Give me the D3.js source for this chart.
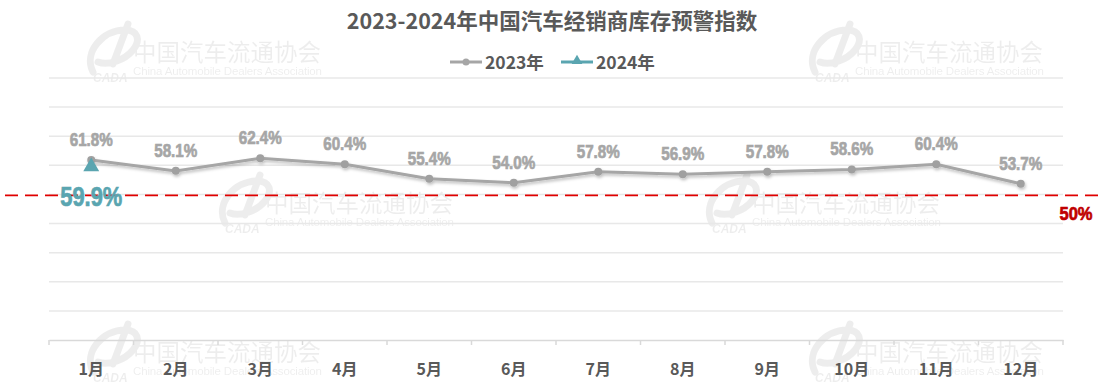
<!DOCTYPE html>
<html>
<head>
<meta charset="utf-8">
<script src="https://cdn.jsdelivr.net/npm/d3@7/dist/d3.min.js"></script>
<style>
  body { margin: 0; background: #fff; }
  #chart { width: 1108px; height: 385px; }
  .narrow { font-family: "Liberation Sans", Arial, sans-serif; font-weight: bold; stroke-width: 0.7px; }
  .cjk { font-family: "Noto Sans CJK SC", "Noto Sans", sans-serif; }
</style>
</head>
<body>
<div id="chart"></div>
<script>
// datos
const months = ["1月", "2月", "3月", "4月", "5月", "6月", "7月", "8月", "9月", "10月", "11月", "12月"];
const values2023 = [61.8, 58.1, 62.4, 60.4, 55.4, 54.0, 57.8, 56.9, 57.8, 58.6, 60.4, 53.7];
const values2024 = [59.9];
const seriesNames = ["2023年", "2024年"];
const warnLine = 50;
const yTicks = [0, 10, 20, 30, 40, 50, 60, 70, 80, 90];
const titleText = "2023-2024年中国汽车经销商库存预警指数";

const width = 1108, height = 385;
const margin = { top: 78, right: 45, bottom: 45, left: 49 };

const svg = d3.select("#chart").append("svg")
  .attr("width", width)
  .attr("height", height);

// sombra de la linea
const defs = svg.append("defs");
const filter = defs.append("filter").attr("id", "shadow")
  .attr("x", "-10%").attr("y", "-50%").attr("width", "120%").attr("height", "200%");
filter.append("feDropShadow")
  .attr("dx", 1).attr("dy", 2).attr("stdDeviation", 1.5)
  .attr("flood-color", "#000").attr("flood-opacity", 0.25);

const x = d3.scaleBand()
  .domain(months)
  .range([margin.left, width - margin.right]);

const y = d3.scaleLinear()
  .domain([0, 90])
  .range([height - margin.bottom, margin.top]);

// marca de agua
const marks = [[133, 52], [855, 52], [265, 203], [752, 203], [133, 352], [855, 352]];
marks.forEach(function (m) {
  let g = svg.append("g").attr("transform", "translate(" + m[0] + "," + m[1] + ")").attr("opacity", 0.065);
  g.append("path")
    .attr("d", "M-40,20 C-50,0 -30,-22 -8,-22 C5,-22 8,-12 0,-2 C-8,8 -25,14 -35,10 M-20,12 L-5,-28")
    .attr("fill", "none").attr("stroke", "#000").attr("stroke-width", 7).attr("stroke-linecap", "round");
  g.append("text").attr("x", -40).attr("y", 30).attr("font-size", 12).attr("font-style", "italic")
    .attr("font-weight", "bold").attr("font-family", "Liberation Sans, sans-serif").attr("fill", "#000").text("CADA");
  g.append("text").attr("class", "cjk").attr("x", 0).attr("y", 9).attr("font-size", 23.5)
    .attr("fill", "#000").text("中国汽车流通协会");
  g.append("text").attr("x", 0).attr("y", 23).attr("font-size", 11.5)
    .attr("font-family", "Liberation Sans, Arial, sans-serif").attr("fill", "#000")
    .attr("textLength", 189).text("China Automobile Dealers Association");
});

// cuadricula
svg.append("g").selectAll("line")
  .data(yTicks.slice(1))
  .enter().append("line")
  .attr("x1", margin.left).attr("x2", width - margin.right)
  .attr("y1", function (d) { return y(d); })
  .attr("y2", function (d) { return y(d); })
  .attr("stroke", "#e8e8e8").attr("stroke-width", 1.5);

// eje x
const xAxis = svg.append("g")
  .attr("transform", "translate(0," + y(0) + ")")
  .call(d3.axisBottom(x).tickSize(0).tickPadding(24));
xAxis.select(".domain").attr("stroke", "#d9d9d9").attr("stroke-width", 1.5);
xAxis.selectAll("text")
  .attr("class", "cjk")
  .attr("font-size", 16).attr("font-weight", "bold").attr("fill", "#595959");
xAxis.selectAll(".sep")
  .data(months.concat([""]))
  .enter().append("line")
  .attr("class", "sep")
  .attr("x1", function (d, i) { return margin.left + i * x.step(); })
  .attr("x2", function (d, i) { return margin.left + i * x.step(); })
  .attr("y1", 0).attr("y2", 5)
  .attr("stroke", "#d9d9d9").attr("stroke-width", 1.5);

// linea de advertencia
svg.append("line")
  .attr("x1", 5).attr("x2", 1100)
  .attr("y1", y(warnLine) + 1).attr("y2", y(warnLine) + 1)
  .attr("stroke", "#e00000").attr("stroke-width", 1.8)
  .attr("stroke-dasharray", "13,7");
svg.append("text")
  .attr("class", "narrow")
  .attr("transform", "translate(1076,220) scale(0.87,1)")
  .attr("text-anchor", "middle")
  .attr("font-size", 19).attr("fill", "#c00000").attr("stroke", "#c00000")
  .text(warnLine + "%");

// serie 2023
const cx = function (d, i) { return x(months[i]) + x.bandwidth() / 2; };
const line = d3.line()
  .x(function (d, i) { return cx(d, i); })
  .y(function (d) { return y(d); });

const s23 = svg.append("g").attr("filter", "url(#shadow)");
s23.append("path")
  .datum(values2023)
  .attr("d", line)
  .attr("fill", "none")
  .attr("stroke", "#a6a6a6")
  .attr("stroke-width", 3);
s23.selectAll("circle")
  .data(values2023)
  .enter().append("circle")
  .attr("cx", cx)
  .attr("cy", function (d) { return y(d); })
  .attr("r", 4)
  .attr("fill", "#a0a0a0");

svg.selectAll(".lab23")
  .data(values2023)
  .enter().append("text")
  .attr("class", "narrow lab23")
  .attr("transform", function (d, i) { return "translate(" + cx(d, i) + "," + (y(d) - 14) + ") scale(0.8,1)"; })
  .attr("text-anchor", "middle")
  .attr("font-size", 19)
  .attr("fill", "#a6a6a6").attr("stroke", "#a6a6a6")
  .text(function (d) { return d.toFixed(1) + "%"; });

// serie 2024
const tri = d3.symbol().type(d3.symbolTriangle).size(110);
svg.selectAll(".pt24")
  .data(values2024)
  .enter().append("path")
  .attr("class", "pt24")
  .attr("transform", function (d, i) { return "translate(" + cx(d, i) + "," + (y(d) + 1) + ")"; })
  .attr("d", tri)
  .attr("fill", "#5aa5b0");
svg.selectAll(".lab24")
  .data(values2024)
  .enter().append("text")
  .attr("class", "narrow lab24")
  .attr("transform", function (d, i) { return "translate(" + cx(d, i) + "," + (y(d) + 40) + ") scale(0.81,1)"; })
  .attr("text-anchor", "middle")
  .attr("font-size", 27)
  .attr("fill", "#5aa5b0").attr("stroke", "#5aa5b0")
  .text(function (d) { return d.toFixed(1) + "%"; });

// titulo
svg.append("text")
  .attr("class", "cjk")
  .attr("x", 552).attr("y", 29)
  .attr("text-anchor", "middle")
  .attr("font-size", 21.5).attr("font-weight", "bold")
  .attr("fill", "#595959")
  .text(titleText);

// leyenda
const legend = svg.append("g").attr("transform", "translate(450,62)");
const legendItems = [
  { name: seriesNames[0], color: "#a6a6a6", shape: "circle", dx: 0 },
  { name: seriesNames[1], color: "#5aa5b0", shape: "triangle", dx: 111 }
];
legendItems.forEach(function (item) {
  let g = legend.append("g").attr("transform", "translate(" + item.dx + ",0)");
  g.append("line").attr("x1", 0).attr("x2", 32).attr("stroke", item.color).attr("stroke-width", 3);
  if (item.shape === "circle") {
    g.append("circle").attr("cx", 16).attr("r", 3.5).attr("fill", item.color);
  } else {
    g.append("path").attr("transform", "translate(16,-1)").attr("d", d3.symbol().type(d3.symbolTriangle).size(50)).attr("fill", item.color);
  }
  g.append("text").attr("class", "cjk")
    .attr("x", 35).attr("y", 6.5)
    .attr("font-size", 17.5).attr("font-weight", "bold").attr("fill", "#595959")
    .text(item.name);
});
</script>
</body>
</html>
